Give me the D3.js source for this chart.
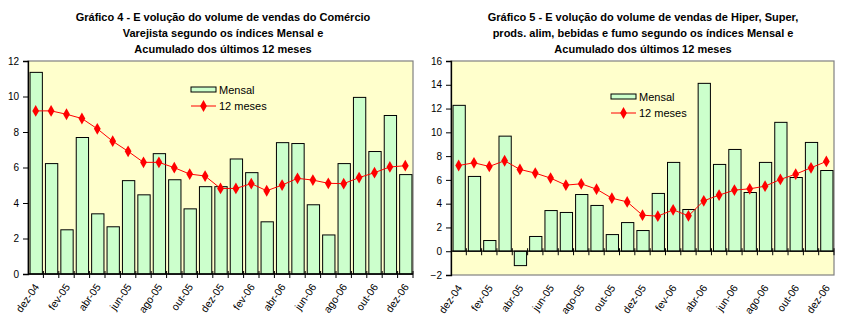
<!DOCTYPE html>
<html>
<head>
<meta charset="utf-8">
<script src="https://cdn.jsdelivr.net/npm/d3@7"></script>
<style>
body { margin:0; background:#fff; }
svg text { font-family:"Liberation Sans", Arial, sans-serif; fill:#000; }
.title { font-size:11px; font-weight:bold; }
.tick text { font-size:10px; }
.legend { font-size:11px; }
</style>
</head>
<body>
<svg width="848" height="326"></svg>
<script>
//months of the two charts
var months = ["dez-04","jan-05","fev-05","mar-05","abr-05","mai-05","jun-05","jul-05","ago-05","set-05","out-05","nov-05","dez-05",
              "jan-06","fev-06","mar-06","abr-06","mai-06","jun-06","jul-06","ago-06","set-06","out-06","nov-06","dez-06"]

//grafico 4 - comercio varejista
var mensal4 = [11.36,6.22,2.49,7.69,3.39,2.66,5.26,4.46,6.78,5.31,3.67,4.92,4.92,
               6.48,5.71,2.94,7.40,7.35,3.90,2.20,6.22,9.95,6.90,8.93,5.60]
var meses4 = [9.19,9.19,9.00,8.76,8.18,7.48,6.91,6.29,6.29,5.99,5.63,5.52,4.82,
              4.82,5.09,4.69,5.01,5.39,5.29,5.11,5.09,5.43,5.71,6.03,6.10]
var yTicks4 = [0,2,4,6,8,10,12]

//grafico 5 - hiper, super, alimentos
var mensal5 = [12.27,6.29,0.90,9.68,-1.21,1.24,3.42,3.26,4.77,3.85,1.40,2.41,1.74,
               4.86,7.47,3.51,14.12,7.30,8.56,4.94,7.47,10.84,6.20,9.15,6.79]
var meses5 = [7.21,7.44,7.13,7.61,6.88,6.57,6.15,5.56,5.67,5.22,4.46,4.15,3.03,
              2.95,3.48,2.98,4.24,4.72,5.14,5.25,5.47,6.04,6.48,7.02,7.55]
var yTicks5 = [-2,0,2,4,6,8,10,12,14,16]

var titles4 = ["Gráfico 4 - E volução do volume de vendas do Comércio",
               "Varejista segundo os índices Mensal e",
               "Acumulado dos últimos 12 meses"]
var titles5 = ["Gráfico 5  - E volução do volume de vendas de Hiper, Super,",
               "prods. alim, bebidas e fumo segundo os índices Mensal e",
               "Acumulado dos últimos 12 meses"]

var drawChart = function(box, mensal, meses, yTicks, titles, legendPos)
{
    var svg = d3.select("svg")
    var xScale = d3.scaleBand()
        .domain(months)
        .range([box.left, box.right])
        .paddingInner(0.2)
        .paddingOuter(0.1)
    var yScale = d3.scaleLinear()
        .domain([yTicks[0], yTicks[yTicks.length-1]])
        .range([box.bottom, box.top])

    //plot area
    svg.append("rect")
        .attr("x", box.left)
        .attr("y", box.top)
        .attr("width", box.right-box.left)
        .attr("height", box.bottom-box.top)
        .attr("fill", "#FFFFCC")
        .attr("stroke", "#808080")
        .attr("stroke-width", 1.2)

    //bars
    svg.append("g").selectAll("rect")
        .data(mensal)
        .enter()
        .append("rect")
        .attr("x", function(d,i){ return xScale(months[i]) + 0.5; })
        .attr("y", function(d){ return yScale(Math.max(d,0)); })
        .attr("width", xScale.bandwidth())
        .attr("height", function(d){ return Math.abs(yScale(d)-yScale(0)); })
        .attr("fill", "#CCFFCC")
        .attr("stroke", "#000")
        .attr("stroke-width", 1)

    //axes
    var yAxis = d3.axisLeft(yScale)
        .tickValues(yTicks)
        .tickSize(5)
        .tickPadding(4)
        .tickFormat(d3.format("d"))
    var gy = svg.append("g")
        .attr("transform", "translate(" + box.left + ",0)")
        .call(yAxis)
    gy.select(".domain").attr("stroke", "#000").attr("stroke-width", 1.3)

    var gx = svg.append("g")
    gx.append("line")
        .attr("x1", box.left).attr("x2", box.right)
        .attr("y1", yScale(0)).attr("y2", yScale(0))
        .attr("stroke", "#000").attr("stroke-width", 1.3)
    var bounds = months.map(function(m){ return xScale(m) - xScale.step()*xScale.paddingInner()/2; })
    bounds.push(box.right)
    gx.selectAll(".xt")
        .data(bounds.slice(1))
        .enter()
        .append("line")
        .attr("x1", function(d){ return d; }).attr("x2", function(d){ return d; })
        .attr("y1", yScale(0)-3).attr("y2", yScale(0)+4)
        .attr("stroke", "#000")

    //month labels
    svg.append("g").selectAll("text")
        .data(months.filter(function(m,i){ return i%2==0; }))
        .enter()
        .append("text")
        .attr("class", "tick")
        .style("font-size", "10.5px")
        .attr("text-anchor", "end")
        .attr("transform", function(m){
            return "translate(" + (xScale(m) + xScale.bandwidth()/2 + 4) + "," + (box.axisBottom + 13) + ") rotate(-55)";
        })
        .text(function(m){ return m; })

    //12 meses line
    var line = d3.line()
        .x(function(d,i){ return xScale(months[i]) + xScale.bandwidth()/2; })
        .y(function(d){ return yScale(d); })
    svg.append("path")
        .datum(meses)
        .attr("d", line)
        .attr("fill", "none")
        .attr("stroke", "#FF0000")
        .attr("stroke-width", 1)
    var diamond = d3.symbol().type(d3.symbolDiamond).size(40)
    svg.append("g").selectAll("path")
        .data(meses)
        .enter()
        .append("path")
        .attr("d", diamond)
        .attr("transform", function(d,i){
            return "translate(" + (xScale(months[i]) + xScale.bandwidth()/2) + "," + yScale(d) + ")";
        })
        .attr("fill", "#FF0000")

    //legend
    var lg = svg.append("g").attr("transform", "translate(" + legendPos.x + "," + legendPos.y + ")")
    lg.append("rect")
        .attr("x", 0).attr("y", 0).attr("width", 25).attr("height", 5)
        .attr("fill", "#CCFFCC").attr("stroke", "#000")
    lg.append("text").attr("class", "legend").attr("x", 28).attr("y", 7).text("Mensal")
    lg.append("line")
        .attr("x1", 0).attr("x2", 25).attr("y1", 19).attr("y2", 19)
        .attr("stroke", "#FF0000")
    lg.append("path").attr("d", diamond).attr("transform", "translate(12.5,19)").attr("fill", "#FF0000")
    lg.append("text").attr("class", "legend").attr("x", 28).attr("y", 23).text("12 meses")

    //title
    svg.append("g").selectAll("text")
        .data(titles)
        .enter()
        .append("text")
        .attr("class", "title")
        .attr("text-anchor", "middle")
        .attr("x", box.titleX)
        .attr("y", function(d,i){ return 21 + i*16; })
        .text(function(d){ return d; })
}

var initGraph = function()
{
    drawChart({left:28, right:413, top:61, bottom:274, axisBottom:274, titleX:223},
              mensal4, meses4, yTicks4, titles4, {x:191, y:87})
    drawChart({left:451, right:834, top:61, bottom:275, axisBottom:275, titleX:643},
              mensal5, meses5, yTicks5, titles5, {x:611, y:94})
}

initGraph()
</script>
</body>
</html>
